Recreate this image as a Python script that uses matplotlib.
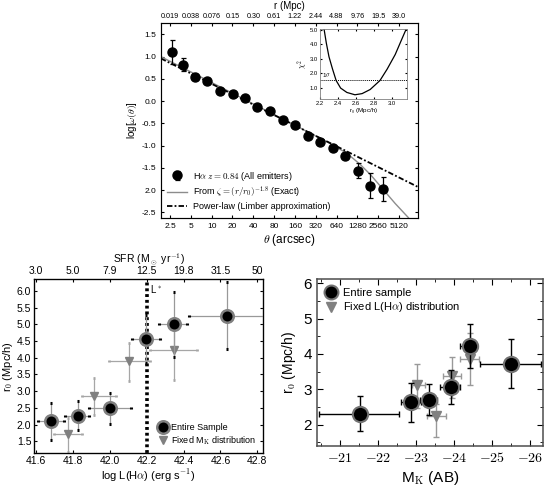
import numpy as np
import matplotlib
matplotlib.use("Agg")
import matplotlib.pyplot as plt

plt.rcParams['font.sans-serif'] = ['Liberation Sans', 'DejaVu Sans']
plt.rcParams['font.family'] = 'sans-serif'
plt.rcParams['mathtext.fontset'] = 'cm'
plt.rcParams['axes.unicode_minus'] = False

# ================= 数据 =================
# 上图: w(theta)
theta = [2.64, 3.82, 5.76, 8.66, 13.2, 20.2, 30.5, 45.9, 70, 107, 161, 246, 370, 565, 850, 1300, 1966, 2960]
logw = [1.11, 0.82, 0.55, 0.45, 0.23, 0.16, 0.07, -0.12, -0.23, -0.43, -0.53, -0.78, -0.92, -1.05, -1.24, -1.56, -1.90, -1.97]
logw_err = [0.27, 0.14, 0.07, 0.07, 0.06, 0.05, 0.05, 0.05, 0.05, 0.05, 0.05, 0.05, 0.05, 0.06, 0.07, 0.17, 0.28, 0.27]

exact_theta = [1.85, 10, 50, 200, 500, 900, 1400, 2000, 3000, 4500, 7000]
exact_logw = [1.00, 0.42, -0.14, -0.62, -0.94, -1.17, -1.42, -1.66, -1.98, -2.30, -2.62]

limber_theta = [1.85, 9650]
limber_logw = [0.96, -1.93]

theta_ticks = [2.5, 5, 10, 20, 40, 80, 160, 320, 640, 1280, 2560, 5120]
theta_labels = ["2.5", "5", "10", "20", "40", "80", "160", "320", "640", "1280", "2560", "5120"]
r_labels = ["0.019", "0.038", "0.076", "0.15", "0.30", "0.61", "1.22", "2.44", "4.88", "9.76", "19.5", "39.0"]

# 插图: chi^2
inset_r0 = [2.245, 2.27, 2.30, 2.34, 2.38, 2.43, 2.50, 2.59, 2.67, 2.76, 2.87, 2.95, 3.04, 3.11, 3.17]
inset_chi2 = [5.05, 4.1, 3.15, 2.3, 1.52, 1.0, 0.7, 0.54, 0.62, 0.9, 1.52, 2.3, 3.3, 4.3, 5.15]
one_sigma = 1.52

# 左下图: r0 vs log L(Ha)
lha_all = [41.683, 41.827, 42.00, 42.197, 42.348, 42.635]
lha_all_lo = [41.61, 41.76, 41.89, 42.123, 42.265, 42.43]
lha_all_hi = [41.754, 41.89, 42.114, 42.27, 42.42, 42.84]
r0_all = [2.10, 2.26, 2.50, 4.55, 5.00, 5.24]
r0_all_lo = [1.55, 1.85, 2.03, 3.84, 4.02, 4.25]
r0_all_hi = [2.65, 2.70, 2.94, 5.27, 5.97, 6.25]

lha_fix = [41.772, 41.914, 42.104, 42.348]
lha_fix_lo = [41.698, 41.85, 41.994, 42.22]
lha_fix_hi = [41.85, 42.034, 42.22, 42.474]
r0_fix = [1.71, 2.85, 3.90, 4.22]
r0_fix_lo = [1.18, 2.28, 3.30, 3.33]
r0_fix_hi = [2.21, 3.38, 4.45, 5.10]

lha_ticks = [41.6, 41.8, 42.0, 42.2, 42.4, 42.6, 42.8]
sfr_labels = ["3.0", "5.0", "7.9", "12.5", "19.8", "31.5", "50"]
l_star = 42.2

# 右下图: r0 vs M_K
mk_all = [-21.53, -22.87, -23.35, -23.92, -24.42, -25.49]
mk_all_lo = [-20.49, -22.60, -23.15, -23.69, -24.23, -24.70]
mk_all_hi = [-22.60, -23.13, -23.60, -24.20, -24.68, -26.28]
r0k_all = [2.30, 2.64, 2.70, 3.07, 4.22, 3.72]
r0k_all_lo = [1.81, 2.09, 2.28, 2.58, 3.60, 3.05]
r0k_all_hi = [2.81, 3.19, 3.14, 3.56, 4.86, 4.43]

mk_fix = [-23.04, -23.54, -23.96, -24.42]
mk_fix_lo = [-22.84, -23.28, -23.74, -24.18]
mk_fix_hi = [-23.19, -23.79, -24.20, -24.68]
r0k_fix = [3.12, 2.25, 3.37, 3.86]
r0k_fix_lo = [2.47, 1.65, 2.75, 3.12]
r0k_fix_hi = [3.73, 2.60, 3.92, 4.58]


def asym(val, lo, hi):
    val = np.array(val)
    return [np.abs(val - np.array(lo)), np.abs(np.array(hi) - val)]


fig = plt.figure(figsize=(5.53, 4.87), dpi=100)

# ================= 上图 =================
ax = fig.add_axes([0.291, 0.553, 0.465, 0.400])
ax.set_xscale("log")
l_exact, = ax.plot(exact_theta, exact_logw, color="0.55", lw=1.0)
l_limber, = ax.plot(limber_theta, limber_logw, color="black", lw=1.3,
                    linestyle=(0, (3, 1.2, 1, 1.2)))
eb = ax.errorbar(theta, logw, yerr=logw_err, fmt="o", color="black", ms=6.5,
                 capsize=1.8, elinewidth=0.9, capthick=0.9)
ax.set_xlim(1.85, 9650)
ax.set_ylim(-2.62, 1.76)
ax.set_xticks(theta_ticks)
ax.set_xticklabels(theta_labels)
ax.xaxis.set_minor_locator(matplotlib.ticker.NullLocator())
ax.set_yticks([1.5, 1.0, 0.5, 0.0, -0.5, -1.0, -1.5, -2.0, -2.5])
ax.set_yticklabels(["1.5", "1.0", "0.5", "0.0", "-0.5", "-1.0", "-1.5", "2.0", "-2.5"])
ax.tick_params(labelsize=6, direction="in", length=2.5, right=True)
ax.set_xlabel(r"$\theta$ (arcsec)", fontsize=8.5, labelpad=2)
ax.set_ylabel(r"log[$\omega(\theta)$]", fontsize=7, labelpad=2)
for s in ax.spines.values():
    s.set_color("0.35")

ax_top = ax.twiny()
ax_top.set_xscale("log")
ax_top.set_xlim(ax.get_xlim())
ax_top.set_xticks(theta_ticks)
ax_top.set_xticklabels(r_labels)
ax_top.xaxis.set_minor_locator(matplotlib.ticker.NullLocator())
ax_top.tick_params(labelsize=5.2, direction="in", length=2.5, pad=2)
ax_top.set_xlabel("r (Mpc)", fontsize=7, labelpad=3)

ax.legend([eb, l_exact, l_limber],
          [r"H$\alpha$ $z=0.84$ (All emitters)",
           r"From $\zeta=(r/r_0)^{-1.8}$ (Exact)",
           "Power-law (Limber approximation)"],
          loc="lower left", fontsize=6.5, frameon=False, handlelength=2.2,
          borderaxespad=0.3, labelspacing=0.25, handletextpad=0.6)

# 插图
axi = fig.add_axes([0.5787, 0.7967, 0.157, 0.1437])
axi.plot(inset_r0, inset_chi2, color="black", lw=0.9)
axi.axhline(one_sigma, color="black", lw=0.7, linestyle=(0, (1, 1)))
axi.text(2.225, one_sigma + 0.1, r"1$\sigma$", fontsize=4.5, va="bottom")
axi.set_xlim(2.2, 3.17)
axi.set_ylim(0.25, 5.05)
axi.set_xticks([2.2, 2.4, 2.6, 2.8, 3.0])
axi.set_yticks([1.0, 2.0, 3.0, 4.0, 5.0])
axi.set_xticklabels(["2.2", "2.4", "2.6", "2.8", "3.0"])
axi.set_yticklabels(["1.0", "2.0", "3.0", "4.0", "5.0"])
axi.tick_params(labelsize=4.2, direction="in", length=1.5, pad=1.5, right=True, top=True)
axi.set_xlabel(r"r$_0$ (Mpc/h)", fontsize=4.5, labelpad=0.5)
axi.set_ylabel(r"$\chi^2$", fontsize=5.5, labelpad=0)
for s in axi.spines.values():
    s.set_color("0.5")
    s.set_linewidth(0.6)

# ================= 左下图 =================
axl = fig.add_axes([0.0615, 0.0698, 0.414, 0.357])
axl.axvline(l_star, color="black", lw=2.6, linestyle=(0, (0.8, 0.8)), zorder=1)
axl.text(l_star + 0.02, 6.05, r"L$^*$", fontsize=7, va="center")
axl.errorbar(lha_fix, r0_fix, xerr=asym(lha_fix, lha_fix_lo, lha_fix_hi),
             yerr=asym(r0_fix, r0_fix_lo, r0_fix_hi), fmt="v", color="0.5",
             ecolor="0.65", ms=6, elinewidth=0.9, capsize=1.0, capthick=2.0,
             zorder=2)
axl.errorbar(lha_all, r0_all, xerr=asym(lha_all, lha_all_lo, lha_all_hi),
             yerr=asym(r0_all, r0_all_lo, r0_all_hi), fmt="none",
             ecolor="0.6", elinewidth=0.9, capsize=0, zorder=3)
axl.errorbar(lha_all, r0_all, xerr=asym(lha_all, lha_all_lo, lha_all_hi),
             yerr=asym(r0_all, r0_all_lo, r0_all_hi), fmt="none",
             ecolor="black", elinewidth=0, capsize=1.0, capthick=2.2, zorder=3)
axl.plot(lha_all, r0_all, "o", color="black", mec="0.5", mew=1.8, ms=9, zorder=4)
axl.set_xlim(41.59, 42.83)
axl.set_ylim(1.15, 6.35)
axl.set_xticks(lha_ticks)
axl.set_xticklabels(["41.6", "41.8", "42.0", "42.2", "42.4", "42.6", "42.8"])
axl.set_yticks([1.5, 2.0, 2.5, 3.0, 3.5, 4.0, 4.5, 5.0, 5.5, 6.0])
axl.set_yticklabels(["1.5", "2.0", "2.5", "3.0", "3.5", "4.0", "4.5", "5.0", "5.5", "6.0"])
axl.tick_params(labelsize=7.5, direction="in", length=2.5, right=True, pad=2)
axl.set_xlabel(r"log L(H$\alpha$) (erg s$^{-1}$)", fontsize=8, labelpad=1)
axl.set_ylabel(r"r$_0$ (Mpc/h)", fontsize=8, labelpad=1)
for s in axl.spines.values():
    s.set_color("0.35")
    s.set_linewidth(1.0)

axl_top = axl.twiny()
axl_top.set_xlim(axl.get_xlim())
axl_top.set_xticks(lha_ticks)
axl_top.set_xticklabels(sfr_labels)
axl_top.tick_params(labelsize=7.5, direction="in", length=2.5, pad=2)
axl_top.set_xlabel(r"SFR (M$_\odot$ yr$^{-1}$)", fontsize=7.5, labelpad=3)

h1, = axl.plot([], [], "o", color="black", mec="0.5", mew=1.8, ms=9)
h2, = axl.plot([], [], "v", color="0.5", ms=6)
axl.legend([h1, h2], ["Entire Sample", r"Fixed M$_\mathrm{K}$ distribution"],
           loc="lower right", fontsize=6.5, frameon=False, handlelength=1.0,
           borderaxespad=0.3, labelspacing=0.2, handletextpad=0.4)

# ================= 右下图 =================
axr = fig.add_axes([0.5727, 0.0842, 0.4098, 0.3423])
axr.errorbar(mk_fix, r0k_fix, xerr=asym(mk_fix, mk_fix_lo, mk_fix_hi),
             yerr=asym(r0k_fix, r0k_fix_lo, r0k_fix_hi), fmt="v", color="0.5",
             ecolor="0.6", ms=7, elinewidth=1.0, capsize=2.5, capthick=1.0,
             zorder=2)
axr.errorbar(mk_all, r0k_all, xerr=asym(mk_all, mk_all_lo, mk_all_hi),
             yerr=asym(r0k_all, r0k_all_lo, r0k_all_hi), fmt="none",
             ecolor="black", elinewidth=1.0, capsize=2.5, capthick=1.0, zorder=3)
axr.plot(mk_all, r0k_all, "o", color="black", mec="0.45", mew=1.5, ms=11, zorder=4)
axr.set_xlim(-20.4, -26.35)
axr.set_ylim(1.4, 6.11)
axr.set_xticks([-21, -22, -23, -24, -25, -26])
axr.set_xticklabels([r"$-21$", r"$-22$", r"$-23$", r"$-24$", r"$-25$", r"$-26$"])
axr.set_xticks(np.arange(-20.5, -26.3, -0.5), minor=True)
axr.set_yticks([2, 3, 4, 5, 6])
axr.set_yticks(np.arange(1.5, 6.1, 0.5), minor=True)
axr.tick_params(which="both", direction="in", top=True, right=True)
axr.tick_params(which="major", labelsize=10, length=4)
axr.tick_params(which="minor", length=2.5)
axr.tick_params(axis="y", labelsize=11)
axr.set_xlabel(r"M$_\mathrm{K}$ (AB)", fontsize=11, labelpad=3)
axr.set_ylabel(r"r$_0$ (Mpc/h)", fontsize=10, labelpad=4)
for s in axr.spines.values():
    s.set_color("0.3")
    s.set_linewidth(1.1)

g1, = axr.plot([], [], "o", color="black", mec="0.45", mew=1.5, ms=10)
g2, = axr.plot([], [], "v", color="0.5", ms=7)
axr.legend([g1, g2], ["Entire sample", r"Fixed L(H$\alpha$) distribution"],
           loc="upper left", fontsize=8, frameon=False, handlelength=1.0,
           borderaxespad=0.4, labelspacing=0.2, handletextpad=0.6)

plt.savefig("out.png", dpi=100)
